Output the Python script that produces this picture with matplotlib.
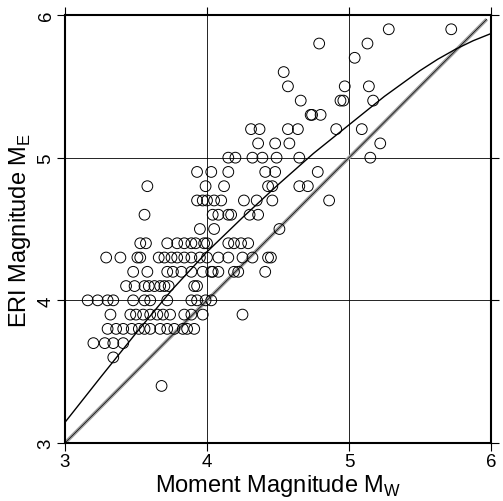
import numpy as np
import matplotlib.pyplot as plt

plt.rcParams['font.family'] = ['Liberation Sans', 'DejaVu Sans']

# -- data, grouped by ERI magnitude row ---------------------------------
mw = [
    3.68,
    3.34,
    3.20, 3.28, 3.34, 3.41,
    3.30, 3.36, 3.41, 3.47, 3.52, 3.56, 3.60, 3.67, 3.72, 3.77, 3.83, 3.86, 3.91,
    3.32, 3.46, 3.50, 3.55, 3.60, 3.65, 3.69, 3.74, 3.84, 3.89, 3.97, 4.25,
    3.16, 3.23, 3.30, 3.34, 3.48, 3.56, 3.60, 3.72, 3.89, 3.93, 3.99, 4.03,
    3.43, 3.49, 3.56, 3.59, 3.63, 3.67, 3.70, 3.73, 3.91, 3.93,
    3.48, 3.58, 3.72, 3.76, 3.82, 3.89, 3.97, 4.03, 4.04, 4.08, 4.19, 4.22, 4.41,
    3.29, 3.39, 3.51, 3.53, 3.66, 3.70, 3.75, 3.79, 3.84, 3.89, 3.95, 4.00, 4.08, 4.15, 4.25, 4.32, 4.43, 4.45,
    3.53, 3.57, 3.72, 3.79, 3.84, 3.89, 3.92, 3.98, 4.00, 4.15, 4.19, 4.24, 4.29,
    3.95, 4.05, 4.51,
    3.56, 4.04, 4.08, 4.15, 4.17, 4.30, 4.36,
    3.93, 3.97, 4.00, 4.05, 4.10, 4.26, 4.35, 4.46, 4.86,
    3.58, 3.99, 4.12, 4.43, 4.46, 4.65, 4.71,
    3.93, 4.03, 4.15, 4.41, 4.48, 4.78,
    4.15, 4.20, 4.32, 4.39, 4.49, 4.65, 5.15,
    4.36, 4.48, 4.58, 5.22,
    4.31, 4.37, 4.57, 4.64, 4.91, 5.09,
    4.73, 4.74, 4.80,
    4.66, 4.94, 4.96, 5.17,
    4.57, 4.97, 5.14,
    4.54,
    5.04,
    4.79, 5.13,
    5.28, 5.72,
]
me = [
    3.4,
    3.6,
    3.7, 3.7, 3.7, 3.7,
    3.8, 3.8, 3.8, 3.8, 3.8, 3.8, 3.8, 3.8, 3.8, 3.8, 3.8, 3.8, 3.8,
    3.9, 3.9, 3.9, 3.9, 3.9, 3.9, 3.9, 3.9, 3.9, 3.9, 3.9, 3.9,
    4.0, 4.0, 4.0, 4.0, 4.0, 4.0, 4.0, 4.0, 4.0, 4.0, 4.0, 4.0,
    4.1, 4.1, 4.1, 4.1, 4.1, 4.1, 4.1, 4.1, 4.1, 4.1,
    4.2, 4.2, 4.2, 4.2, 4.2, 4.2, 4.2, 4.2, 4.2, 4.2, 4.2, 4.2, 4.2,
    4.3, 4.3, 4.3, 4.3, 4.3, 4.3, 4.3, 4.3, 4.3, 4.3, 4.3, 4.3, 4.3, 4.3, 4.3, 4.3, 4.3, 4.3,
    4.4, 4.4, 4.4, 4.4, 4.4, 4.4, 4.4, 4.4, 4.4, 4.4, 4.4, 4.4, 4.4,
    4.5, 4.5, 4.5,
    4.6, 4.6, 4.6, 4.6, 4.6, 4.6, 4.6,
    4.7, 4.7, 4.7, 4.7, 4.7, 4.7, 4.7, 4.7, 4.7,
    4.8, 4.8, 4.8, 4.8, 4.8, 4.8, 4.8,
    4.9, 4.9, 4.9, 4.9, 4.9, 4.9,
    5.0, 5.0, 5.0, 5.0, 5.0, 5.0, 5.0,
    5.1, 5.1, 5.1, 5.1,
    5.2, 5.2, 5.2, 5.2, 5.2, 5.2,
    5.3, 5.3, 5.3,
    5.4, 5.4, 5.4, 5.4,
    5.5, 5.5, 5.5,
    5.6,
    5.7,
    5.8, 5.8,
    5.9, 5.9,
]

# fitted curve, read at regular steps
fit_mw = [3.0, 3.25, 3.5, 3.75, 4.0, 4.25, 4.5, 4.75, 5.0,
          5.125, 5.25, 5.375, 5.5, 5.625, 5.75, 5.875, 6.0]
fit_me = [3.145, 3.46, 3.77, 4.07, 4.34, 4.58, 4.81, 5.03, 5.23,
          5.33, 5.43, 5.52, 5.61, 5.69, 5.76, 5.82, 5.87]

# 1:1 reference line
ref_line = [3.0, 5.97]

ticks = [3, 4, 5, 6]

# -- figure -------------------------------------------------------------
fig = plt.figure(figsize=(5.03, 5.02), dpi=100)
ax = fig.add_axes([65 / 503, 58 / 502, 426 / 503, 428 / 502])

for t in ticks[1:-1]:
    ax.axvline(t, color='k', lw=0.6, zorder=0)
    ax.axhline(t, color='k', lw=0.6, zorder=0)

ax.plot(ref_line, ref_line, color='#a0a0a0', lw=2.6, solid_capstyle='butt', zorder=2)
ax.plot(ref_line, ref_line, color='k', lw=0.5, zorder=2)
ax.plot(fit_mw, fit_me, color='k', lw=1.0, zorder=3)
ax.scatter(mw, me, s=60, facecolors='none', edgecolors='k', linewidths=0.7, zorder=4)

ax.set_xlim(3, 6)
ax.set_ylim(3, 6)
ax.set_xticks(ticks)
ax.set_yticks(ticks)
ax.tick_params(direction='out', length=5.5, width=0.8, labelsize=13.5, pad=2,
               top=True, right=True)
for lbl in ax.get_yticklabels():
    lbl.set_rotation(90)
    lbl.set_va('center')

for s in ax.spines.values():
    s.set_linewidth(1.5)

ax.set_xlabel('Moment Magnitude M$_\\mathregular{W}$', fontsize=17, labelpad=1)
ax.set_ylabel('ERI Magnitude M$_\\mathregular{E}$', fontsize=17, labelpad=3)

fig.savefig('out.png', dpi=100)
